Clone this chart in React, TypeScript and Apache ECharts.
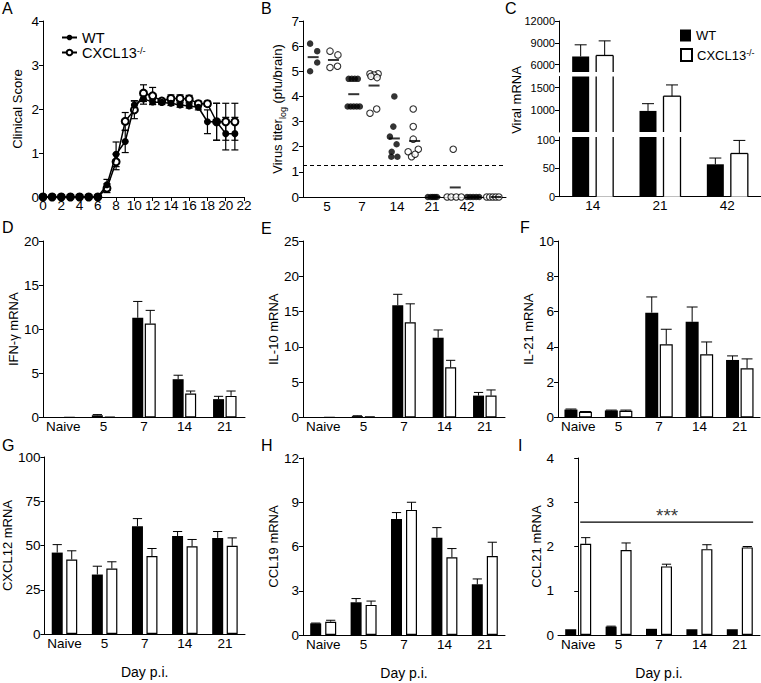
import React, { useEffect, useRef } from 'react';
import * as echarts from 'echarts';

const FONT = 'Arial, Liberation Sans, Helvetica, sans-serif';

// ---------- Panel A: clinical score ----------
const scoreDays = [0, 1, 2, 3, 4, 5, 6, 7, 8, 9, 10, 11, 12, 13, 14, 15, 16, 17, 18, 19, 20, 21];
const wtScore = [0, 0, 0, 0, 0, 0, 0, 0.28, 0.97, 1.26, 2.09, 2.23, 2.16, 2.15, 2.13, 2.09, 2.07, 2.04, 1.71, 1.71, 1.44, 1.44];
const wtScoreErr = [0, 0, 0, 0, 0, 0, 0, 0.12, 0.28, 0.25, 0.1, 0.12, 0.06, 0.05, 0.05, 0.05, 0.05, 0.06, 0.27, 0.42, 0.37, 0.37];
const koScore = [0, 0, 0, 0, 0, 0, 0, 0.2, 0.8, 1.72, 1.98, 2.36, 2.3, 2.18, 2.24, 2.24, 2.23, 2.12, 2.12, 1.71, 1.71, 1.71];
const koScoreErr = [0, 0, 0, 0, 0, 0, 0, 0.1, 0.18, 0.2, 0.2, 0.19, 0.19, 0.06, 0.08, 0.08, 0.08, 0.06, 0.06, 0.42, 0.42, 0.42];

// ---------- Panel B: virus titer ----------
const titerDays = ['5', '7', '14', '21', '42'];
const wtTiter = [
  [6.1, 5.8, 5.35, 5.0],
  [4.7, 4.7, 4.7, 4.7, 3.6, 3.6, 3.6, 3.6, 3.6],
  [4.0, 2.8, 2.4, 2.1, 1.8, 1.6, 1.6],
  [0, 0, 0, 0, 0],
  [0, 0, 0, 0, 0],
];
const wtTiterJitter = [
  [-0.15, 0.2, 0.2, -0.15],
  [-0.25, -0.1, 0.05, 0.2, -0.3, -0.15, 0, 0.15, 0.3],
  [0, -0.05, -0.22, 0.11, -0.13, -0.15, 0.15],
  [-0.35, -0.2, -0.1, 0, 0.1],
  [-0.42, -0.27, -0.12, 0.03, 0.18],
];
const koTiter = [
  [5.8, 5.65, 5.15, 5.2],
  [4.9, 4.9, 4.85, 4.8, 4.75, 3.33, 3.5],
  [3.5, 2.8, 2.3, 1.8, 1.9, 1.6, 1.7],
  [1.9, 0, 0, 0, 0],
  [0, 0, 0, 0, 0],
];
const koTiterJitter = [
  [-0.17, 0.22, -0.17, 0.2],
  [-0.2, 0.2, 0, -0.15, 0.15, -0.2, 0.13],
  [-0.07, -0.07, -0.07, -0.32, 0.18, -0.15, 0.02],
  [-0.1, -0.4, -0.2, 0.05, 0.3],
  [-0.45, -0.3, -0.15, 0, 0.15],
];
const detectionLimit = 1.25;

// ---------- Panel C: viral mRNA ----------
const viralDays = ['14', '21', '42'];
const wtViral = [7130, 975, 57];
const wtViralErr = [1600, 163, 11];
const koViral = [7270, 1307, 76];
const koViralErr = [2000, 253, 23];

// ---------- Panels D-I ----------
const cytoDays = ['Naive', '5', '7', '14', '21'];
const wtIfng = [0.05, 0.25, 11.3, 4.34, 2.08];
const wtIfngErr = [0, 0.08, 1.85, 0.45, 0.32];
const koIfng = [0.03, 0.1, 10.64, 2.72, 2.45];
const koIfngErr = [0, 0, 1.5, 0.28, 0.55];

const wtIl10 = [0.05, 0.2, 15.9, 11.3, 3.1];
const wtIl10Err = [0, 0.05, 1.55, 1.1, 0.45];
const koIl10 = [0.03, 0.15, 13.5, 7.1, 3.1];
const koIl10Err = [0, 0, 2.6, 1.0, 0.8];

const wtIl21 = [0.45, 0.4, 5.94, 5.42, 3.26];
const wtIl21Err = [0.03, 0.02, 0.89, 0.84, 0.23];
const koIl21 = [0.32, 0.38, 4.15, 3.58, 2.79];
const koIl21Err = [0.02, 0.04, 0.85, 0.7, 0.53];

const wtCxcl12 = [46, 33.6, 60.9, 55.3, 54.3];
const wtCxcl12Err = [4.5, 4.7, 4.3, 2.6, 3.6];
const koCxcl12 = [42.1, 37, 44, 49.6, 49.8];
const koCxcl12Err = [4.9, 3.8, 4.3, 3.8, 4.5];

const wtCcl19 = [0.79, 2.22, 7.87, 6.6, 3.44];
const wtCcl19Err = [0.02, 0.25, 0.43, 0.68, 0.36];
const koCcl19 = [0.9, 2.04, 8.48, 5.27, 5.36];
const koCcl19Err = [0.1, 0.26, 0.52, 0.59, 0.93];

const wtCcl21 = [0.13, 0.19, 0.14, 0.13, 0.13];
const wtCcl21Err = [0, 0.01, 0, 0, 0];
const koCcl21 = [2.06, 1.92, 1.55, 1.94, 1.98];
const koCcl21Err = [0.14, 0.16, 0.05, 0.1, 0.02];

const sigY = 2.55;
const sigSpan = [0.05, 4.33];
const sigLabelX = 2.2;

// ---------- helpers ----------
const TICK_FS = 13.5;
const NAME_FS = 13;
const txt = { fontFamily: FONT, color: '#000' };
const axLine = { show: true, lineStyle: { color: '#000', width: 1 } };
const plain = (v: number) => String(v);

function valueY(gridIndex: number, min: number, max: number, interval: number, name: string, nameGap: number, extra: any = {}) {
  return {
    type: 'value', gridIndex, min, max, interval,
    name, nameLocation: 'middle', nameGap,
    nameTextStyle: { ...txt, fontSize: NAME_FS },
    axisLine: axLine,
    axisTick: { show: true, length: 4, lineStyle: { color: '#000' } },
    axisLabel: { ...txt, fontSize: TICK_FS, margin: 4, formatter: plain },
    splitLine: { show: false },
    ...extra,
  };
}

function catX(gridIndex: number, data: string[], extra: any = {}) {
  return {
    type: 'category', gridIndex, data,
    axisLine: axLine,
    axisTick: { show: false },
    axisLabel: { ...txt, fontSize: TICK_FS, margin: 2, interval: 0 },
    splitLine: { show: false },
    ...extra,
  };
}

const barErrRender = (offset: number, capHalf: number) => (params: any, api: any) => {
  const cat = api.value(0), v = api.value(1), e = api.value(2), side = api.value(3);
  if (!e) return null;
  const p0 = api.coord([cat, v]);
  const p1 = api.coord([cat, v + e]);
  const x = p0[0] + side * offset;
  return {
    type: 'group',
    children: [
      { type: 'line', shape: { x1: x, y1: p0[1], x2: x, y2: p1[1] }, style: { stroke: '#000', lineWidth: 1 } },
      { type: 'line', shape: { x1: x - capHalf, y1: p1[1], x2: x + capHalf, y2: p1[1] }, style: { stroke: '#000', lineWidth: 1 } },
    ],
  };
};

function barPanel(gi: number, wtName: string, koName: string, wt: number[], wtErr: number[], ko: number[], koErr: number[], barW: number, gapPx: number) {
  const offset = (barW + gapPx) / 2;
  const errData: number[][] = [];
  wt.forEach((v, i) => errData.push([i, v, wtErr[i], -1]));
  ko.forEach((v, i) => errData.push([i, v, koErr[i], 1]));
  return [
    { type: 'bar', name: wtName, xAxisIndex: gi, yAxisIndex: gi, data: wt, barWidth: barW, barGap: `${(gapPx / barW) * 100}%`, itemStyle: { color: '#000' } },
    { type: 'bar', name: koName, xAxisIndex: gi, yAxisIndex: gi, data: ko, barWidth: barW, barGap: `${(gapPx / barW) * 100}%`, itemStyle: { color: '#fff', borderColor: '#000', borderWidth: 1.2 } },
    { type: 'custom', xAxisIndex: gi, yAxisIndex: gi, data: errData, encode: { x: 0, y: 1 }, renderItem: barErrRender(offset, barW * 0.42), z: 5 },
  ];
}

const pointErrRender = (params: any, api: any) => {
  const d = api.value(0), v = api.value(1), e = api.value(2);
  if (!e) return null;
  const lo = api.coord([d, v - e]);
  const hi = api.coord([d, v + e]);
  const x = lo[0];
  return {
    type: 'group',
    children: [
      { type: 'line', shape: { x1: x, y1: lo[1], x2: x, y2: hi[1] }, style: { stroke: '#000', lineWidth: 1.2 } },
      { type: 'line', shape: { x1: x - 3.5, y1: lo[1], x2: x + 3.5, y2: lo[1] }, style: { stroke: '#000', lineWidth: 1.2 } },
      { type: 'line', shape: { x1: x - 3.5, y1: hi[1], x2: x + 3.5, y2: hi[1] }, style: { stroke: '#000', lineWidth: 1.2 } },
    ],
  };
};

// Panel C bars drawn per axis segment (broken axis)
const C_BAR_W = 17;
const C_GAP = 7;
const C_OFF = (C_BAR_W + C_GAP) / 2;
const cBarRender = (params: any, api: any) => {
  const cs = params.coordSys;
  const cat = api.value(0), v = api.value(1), side = api.value(2);
  const top = api.coord([cat, v]);
  const base = api.coord([cat, 0]);
  const xc = top[0] + side * C_OFF;
  const yT = Math.max(top[1], cs.y);
  const yB = Math.min(base[1], cs.y + cs.height);
  if (yT >= yB) return null;
  const filled = side < 0;
  const x0 = xc - C_BAR_W / 2, x1 = xc + C_BAR_W / 2;
  const children: any[] = [
    { type: 'rect', shape: { x: x0, y: yT, width: C_BAR_W, height: yB - yT }, style: { fill: filled ? '#000' : '#fff' } },
  ];
  if (!filled) {
    const ls = { stroke: '#000', lineWidth: 1.3 };
    children.push({ type: 'line', shape: { x1: x0, y1: yT, x2: x0, y2: yB }, style: ls });
    children.push({ type: 'line', shape: { x1: x1, y1: yT, x2: x1, y2: yB }, style: ls });
    if (top[1] >= cs.y) children.push({ type: 'line', shape: { x1: x0, y1: yT, x2: x1, y2: yT }, style: ls });
  }
  return { type: 'group', children };
};
const cErrRender = (min: number, max: number) => (params: any, api: any) => {
  const v = api.value(1);
  if (v < min || v > max) return null;
  const cat = api.value(0), e = api.value(2), side = api.value(3);
  const p0 = api.coord([cat, v]);
  const p1 = api.coord([cat, v + e]);
  const x = p0[0] + side * C_OFF;
  return {
    type: 'group',
    children: [
      { type: 'line', shape: { x1: x, y1: p0[1], x2: x, y2: p1[1] }, style: { stroke: '#000', lineWidth: 1 } },
      { type: 'line', shape: { x1: x - 6, y1: p1[1], x2: x + 6, y2: p1[1] }, style: { stroke: '#000', lineWidth: 1 } },
    ],
  };
};

function buildOption() {
  const grids = [
    { left: 43, top: 21, width: 201, height: 176 },      // 0 A
    { left: 303, top: 21, width: 203, height: 176 },     // 1 B
    { left: 309.5, top: 21, width: 175, height: 176 },   // 2 B labels
    { left: 559, top: 137, width: 202, height: 59.7 },   // 3 C bottom 0-105
    { left: 559, top: 76.5, width: 202, height: 55.5 },  // 4 C middle 500-1750
    { left: 559, top: 21, width: 202, height: 51 },      // 5 C top 5000-12000
    { left: 43, top: 241, width: 202, height: 176.5 },   // 6 D
    { left: 303, top: 241, width: 202, height: 176.5 },  // 7 E
    { left: 558, top: 241, width: 202, height: 176.5 },  // 8 F
    { left: 43, top: 457, width: 202, height: 177 },     // 9 G
    { left: 303, top: 458, width: 202, height: 177 },    // 10 H
    { left: 558, top: 458, width: 202, height: 177 },    // 11 I
  ];

  const dayName = { name: 'Day p.i.', nameLocation: 'middle', nameGap: 31, nameTextStyle: { ...txt, fontSize: 14 } };

  const xAxis: any[] = [
    {
      type: 'value', gridIndex: 0, min: 0, max: 22, interval: 2,
      axisLine: axLine, axisTick: { show: true, length: 4, lineStyle: { color: '#000' } },
      axisLabel: { ...txt, fontSize: TICK_FS, margin: 1 }, splitLine: { show: false },
    },
    {
      type: 'value', gridIndex: 1, min: 0, max: 10,
      axisLine: axLine, axisTick: { show: false }, axisLabel: { show: false }, splitLine: { show: false },
    },
    catX(2, titerDays, { axisLine: { show: false } }),
    catX(3, viralDays),
    catX(4, viralDays, { show: false }),
    catX(5, viralDays, { show: false }),
    catX(6, cytoDays),
    catX(7, cytoDays),
    catX(8, cytoDays),
    catX(9, cytoDays, dayName),
    catX(10, cytoDays, dayName),
    catX(11, cytoDays, dayName),
    { type: 'value', gridIndex: 11, min: -0.5, max: 4.5, show: false },
  ];

  const cLabel = (vals: number[]) => ({
    axisLabel: { ...txt, fontSize: 11, margin: 4, customValues: vals, formatter: plain },
    axisTick: { show: true, length: 4, lineStyle: { color: '#000' }, customValues: vals },
  });

  const yAxis: any[] = [
    valueY(0, 0, 4, 1, 'Clinical Score', 19),
    valueY(1, 0, 7, 1, 'Virus titer{sub|log} (pfu/brain)', 16, {
      nameTextStyle: { ...txt, fontSize: NAME_FS, lineHeight: 20, rich: { sub: { fontSize: 9, verticalAlign: 'bottom', lineHeight: 20, fontFamily: FONT, color: '#000' } } },
    }),
    { type: 'value', gridIndex: 2, min: 0, max: 7, show: false },
    valueY(3, 0, 105, 50, '', 0, cLabel([0, 50, 100])),
    valueY(4, 500, 1750, 500, '', 0, cLabel([1000, 1500])),
    valueY(5, 5000, 12000, 1000, '', 0, cLabel([6000, 9000, 12000])),
    valueY(6, 0, 20, 5, 'IFN-γ mRNA', 20),
    valueY(7, 0, 25, 5, 'IL-10 mRNA', 20),
    valueY(8, 0, 10, 2, 'IL-21 mRNA', 20),
    valueY(9, 0, 100, 25, 'CXCL12 mRNA', 27),
    valueY(10, 0, 12, 3, 'CCL19 mRNA', 21),
    valueY(11, 0, 4, 1, 'CCL21 mRNA', 14),
  ];

  const series: any[] = [];

  // A
  series.push({
    type: 'custom', xAxisIndex: 0, yAxisIndex: 0, encode: { x: 0, y: 1 },
    data: scoreDays.map((d, i) => [d, wtScore[i], wtScoreErr[i]]), renderItem: pointErrRender, z: 1,
  });
  series.push({
    type: 'custom', xAxisIndex: 0, yAxisIndex: 0, encode: { x: 0, y: 1 },
    data: scoreDays.map((d, i) => [d, koScore[i], koScoreErr[i]]), renderItem: pointErrRender, z: 1,
  });
  series.push({
    type: 'line', name: 'KO_line', xAxisIndex: 0, yAxisIndex: 0,
    data: scoreDays.map((d, i) => [d, koScore[i]]),
    symbol: 'emptyCircle', symbolSize: 7, lineStyle: { color: '#000', width: 1.5 }, itemStyle: { color: '#000', borderWidth: 1.2 }, z: 3,
  });
  series.push({
    type: 'line', name: 'WT_line', xAxisIndex: 0, yAxisIndex: 0,
    data: scoreDays.map((d, i) => [d, wtScore[i]]),
    symbol: 'circle', symbolSize: 7, lineStyle: { color: '#000', width: 1.5 }, itemStyle: { color: '#000' }, z: 4,
  });

  // B
  const wtPts: number[][] = [];
  const koPts: number[][] = [];
  const means: number[][] = [];
  titerDays.forEach((_, di) => {
    const gW = di * 2 + 0.5;
    const gK = di * 2 + 1.5;
    wtTiter[di].forEach((v, j) => wtPts.push([gW + wtTiterJitter[di][j], v]));
    koTiter[di].forEach((v, j) => koPts.push([gK + koTiterJitter[di][j], v]));
    const mw = wtTiter[di].reduce((a, b) => a + b, 0) / wtTiter[di].length;
    const mk = koTiter[di].reduce((a, b) => a + b, 0) / koTiter[di].length;
    means.push([gW, mw]);
    means.push([gK, mk]);
  });
  series.push({
    type: 'scatter', name: 'WT_titer', xAxisIndex: 1, yAxisIndex: 1, data: wtPts,
    symbol: 'circle', symbolSize: 6.5, itemStyle: { color: '#000' }, clip: false, z: 3,
    markLine: {
      silent: true, symbol: ['none', 'none'], label: { show: false },
      lineStyle: { type: [4, 3], color: '#000', width: 1 },
      data: [{ yAxis: detectionLimit }],
    },
  });
  series.push({
    type: 'scatter', name: 'KO_titer', xAxisIndex: 1, yAxisIndex: 1, data: koPts,
    symbol: 'circle', symbolSize: 6.5, itemStyle: { color: '#fff', borderColor: '#000', borderWidth: 1.1 }, clip: false, z: 3,
  });
  series.push({
    type: 'scatter', name: 'mean_titer', xAxisIndex: 1, yAxisIndex: 1, data: means,
    symbol: 'rect', symbolSize: [11, 2], itemStyle: { color: '#000' }, clip: false, z: 4,
  });

  // C (broken axis: three segments)
  const cBarData: number[][] = [];
  const cErrData: number[][] = [];
  wtViral.forEach((v, i) => { cBarData.push([i, v, -1]); cErrData.push([i, v, wtViralErr[i], -1]); });
  koViral.forEach((v, i) => { cBarData.push([i, v, 1]); cErrData.push([i, v, koViralErr[i], 1]); });
  const segs = [[3, 0, 105], [4, 500, 1750], [5, 5000, 12000]];
  segs.forEach(([gi, mn, mx]) => {
    series.push({ type: 'custom', xAxisIndex: gi, yAxisIndex: gi, encode: { x: 0, y: 1 }, data: cBarData, renderItem: cBarRender, z: 2 });
    series.push({ type: 'custom', xAxisIndex: gi, yAxisIndex: gi, encode: { x: 0, y: 1 }, data: cErrData, renderItem: cErrRender(mn, mx), z: 3 });
  });

  // D - I
  series.push(...barPanel(6, 'WT_bar', 'KO_bar', wtIfng, wtIfngErr, koIfng, koIfngErr, 11, 1.5));
  series.push(...barPanel(7, 'WT_E', 'KO_E', wtIl10, wtIl10Err, koIl10, koIl10Err, 11, 1.5));
  series.push(...barPanel(8, 'WT_F', 'KO_F', wtIl21, wtIl21Err, koIl21, koIl21Err, 13, 1.5));
  series.push(...barPanel(9, 'WT_G', 'KO_G', wtCxcl12, wtCxcl12Err, koCxcl12, koCxcl12Err, 11, 3.5));
  series.push(...barPanel(10, 'WT_H', 'KO_H', wtCcl19, wtCcl19Err, koCcl19, koCcl19Err, 11, 4));
  series.push(...barPanel(11, 'WT_I', 'KO_I', wtCcl21, wtCcl21Err, koCcl21, koCcl21Err, 11, 4));

  // significance line in I
  series.push({
    type: 'line', xAxisIndex: 12, yAxisIndex: 11, data: [[sigSpan[0], sigY], [sigSpan[1], sigY]],
    symbol: 'none', lineStyle: { color: '#000', width: 1.2 }, silent: true,
  });
  series.push({
    type: 'scatter', xAxisIndex: 12, yAxisIndex: 11, data: [[sigLabelX, sigY]], symbolSize: 0, silent: true,
    label: { show: true, position: 'top', distance: -3, formatter: '***', fontSize: 19, fontFamily: FONT, color: '#000' },
  });

  const legendTextA = { ...txt, fontSize: 14.5, rich: { sup: { fontSize: 9.5, verticalAlign: 'top', fontFamily: FONT, color: '#000' } } };
  const legendTextC = { ...txt, fontSize: 13, rich: { sup: { fontSize: 9, verticalAlign: 'top', fontFamily: FONT, color: '#000' } } };
  const fmtA = (n: string) => (n === 'WT_line' ? 'WT' : 'CXCL13{sup|-/-}');
  const fmtC = (n: string) => (n === 'WT_bar' ? 'WT' : 'CXCL13{sup|-/-}');
  const legA = (name: string, top: number) => ({
    orient: 'vertical', left: 56, top, itemWidth: 15, itemHeight: 7,
    selectedMode: false, data: [name], textStyle: legendTextA, formatter: fmtA,
  });
  const legC = (name: string, top: number) => ({
    orient: 'vertical', left: 675, top, itemWidth: 11, itemHeight: 12, icon: 'rect',
    selectedMode: false, data: [name], textStyle: legendTextC, formatter: fmtC,
  });

  const letters = [
    ['A', 2, 0], ['B', 261, 0], ['C', 505, 0],
    ['D', 2, 219], ['E', 261, 220], ['F', 520, 219],
    ['G', 2, 437], ['H', 261, 437], ['I', 518, 437],
  ];

  return {
    animation: false,
    backgroundColor: '#fff',
    textStyle: { fontFamily: FONT },
    grid: grids,
    xAxis,
    yAxis,
    legend: [legA('WT_line', 25), legA('KO_line', 40), legC('WT_bar', 24), legC('KO_bar', 43)],
    graphic: [
      ...letters.map(([t, x, y]) => ({
        type: 'text', x, y, style: { text: t, fontSize: 16, fontFamily: FONT, fill: '#000', verticalAlign: 'top' },
      })),
      {
        type: 'text', x: 516, y: 100, rotation: Math.PI / 2,
        style: { text: 'Viral mRNA', fontSize: NAME_FS, fontFamily: FONT, fill: '#000', align: 'center', verticalAlign: 'middle' },
      },
    ],
    series,
  };
}

export default function App() {
  const ref = useRef<HTMLDivElement>(null);
  useEffect(() => {
    if (!ref.current) return;
    const chart = echarts.init(ref.current, undefined, { renderer: 'svg' });
    chart.setOption(buildOption() as any);
    return () => chart.dispose();
  }, []);
  return <div ref={ref} style={{ position: 'absolute', left: 0, top: 0, width: 761, height: 683 }} />;
}
